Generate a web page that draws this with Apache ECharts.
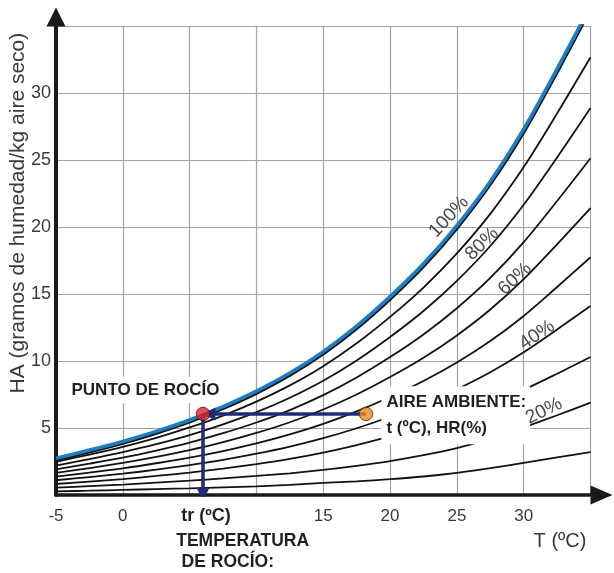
<!DOCTYPE html>
<html><head><meta charset="utf-8">
<script src="https://cdn.jsdelivr.net/npm/echarts@6/dist/echarts.min.js"></script>
<style>html,body{margin:0;padding:0;background:#fff}#c{width:614px;height:573px}</style>
</head><body><div id="c"></div>
<script>
// Temperatures (ºC) at which the curves were read
const temps = [-5, -2.5, 0, 2.5, 5, 7.5, 10, 12.5, 15, 17.5, 20, 22.5, 25, 27.5, 30, 32.5, 35];
// Humidity HA (g/kg) for each relative humidity curve
const rh100 = [2.75, 3.35, 4.0, 4.75, 5.6, 6.6, 7.75, 9.1, 10.7, 12.6, 14.8, 17.25, 20.1, 23.4, 27.3, 31.8, 36.5];
const rh90 = [2.48, 3.02, 3.6, 4.27, 5.04, 5.93, 6.97, 8.18, 9.61, 11.32, 13.29, 15.48, 18.03, 20.98, 24.47, 28.48, 32.67];
const rh80 = [2.2, 2.68, 3.2, 3.79, 4.47, 5.27, 6.18, 7.26, 8.53, 10.04, 11.79, 13.73, 15.98, 18.58, 21.66, 25.19, 28.88];
const rh70 = [1.92, 2.34, 2.79, 3.32, 3.91, 4.61, 5.41, 6.34, 7.45, 8.77, 10.29, 11.98, 13.94, 16.2, 18.87, 21.94, 25.13];
const rh60 = [1.65, 2.01, 2.39, 2.84, 3.35, 3.94, 4.63, 5.43, 6.38, 7.5, 8.8, 10.24, 11.91, 13.84, 16.11, 18.71, 21.41];
const rh50 = [1.37, 1.67, 1.99, 2.37, 2.79, 3.28, 3.85, 4.52, 5.31, 6.24, 7.31, 8.51, 9.89, 11.49, 13.36, 15.52, 17.74];
const rh40 = [1.1, 1.34, 1.59, 1.89, 2.23, 2.62, 3.08, 3.61, 4.24, 4.98, 5.84, 6.79, 7.89, 9.16, 10.65, 12.35, 14.11];
const rh30 = [0.82, 1.0, 1.19, 1.42, 1.67, 1.97, 2.31, 2.7, 3.17, 3.73, 4.37, 5.08, 5.88, 6.8, 7.85, 9.05, 10.3];
const rh20 = [0.55, 0.66, 0.78, 0.92, 1.07, 1.24, 1.42, 1.62, 1.87, 2.17, 2.53, 2.97, 3.5, 4.2, 5.05, 5.95, 6.9];
const rh10 = [0.27, 0.32, 0.38, 0.44, 0.5, 0.57, 0.65, 0.76, 0.9, 1.02, 1.18, 1.38, 1.65, 2.0, 2.4, 2.8, 3.2];
// Points: dew point and ambient air [T, HA]
const dewPoint = [6.0, 6.05];
const ambient = [18.2, 6.05];
// Tick labels shown
const xTickLabels = [-5, 0, 15, 20, 25, 30];
const yTickLabels = [5, 10, 15, 20, 25, 30];

const blackCurves = [rh90, rh80, rh70, rh60, rh50, rh40, rh30, rh20, rh10, rh100];
const pair = arr => temps.map((t, i) => [t, arr[i]]);

const LIGHT = "'Liberation Sans', Arial, sans-serif";
const BOLD = "'Liberation Sans', Arial, sans-serif";

const chart = echarts.init(document.getElementById('c'), null, {renderer: 'canvas'});

const series = blackCurves.map(arr => ({
  type: 'line', data: pair(arr), showSymbol: false, smooth: 0.3, silent: true,
  lineStyle: {color: '#111', width: 1.8}, z: 3
}));
series.push({
  type: 'line', data: pair(rh100), showSymbol: false, smooth: 0.3, silent: true,
  lineStyle: {color: '#1b7dc4', width: 3.6, shadowColor: '#111', shadowOffsetX: 0.8, shadowOffsetY: 1.4, shadowBlur: 0.01}, z: 4
});
series.push({
  type: 'lines', coordinateSystem: 'cartesian2d', silent: true, z: 5,
  symbol: ['none', 'triangle'], symbolSize: [11, 13],
  lineStyle: {color: '#1f2a7a', width: 3.5, opacity: 1},
  data: [
    {coords: [ambient, [dewPoint[0] + 0.45, dewPoint[1]]]},
    {coords: [dewPoint, [dewPoint[0], 0.05]]}
  ]
});
series.push({
  type: 'scatter', silent: true, z: 6, symbolSize: 13.5,
  data: [
    {value: dewPoint, itemStyle: {color: '#e0242a', borderColor: '#4a1010', borderWidth: 1}},
    {value: ambient, itemStyle: {color: '#f08a1e', borderColor: '#4a2a00', borderWidth: 1}}
  ]
});

chart.setOption({
  animation: false,
  backgroundColor: '#fff',
  grid: {left: 56, top: 26, width: 534.5, height: 469, containLabel: false},
  xAxis: {
    type: 'value', min: -5, max: 35, interval: 5,
    axisLine: {show: true, onZero: false, symbol: ['none', 'triangle'], symbolSize: [19, 22], symbolOffset: [0, 11],
      lineStyle: {color: '#1a1a1a', width: 3.6}},
    axisTick: {show: false},
    splitLine: {show: true, lineStyle: {color: '#a3a3a3', width: 1.2}},
    axisLabel: {margin: 13, fontSize: 17, fontFamily: LIGHT, color: '#3a3a3a',
      formatter: v => xTickLabels.includes(v) ? String(v) : ''}
  },
  yAxis: {
    type: 'value', min: 0, max: 35, interval: 5,
    axisLine: {show: true, onZero: false, symbol: ['none', 'triangle'], symbolSize: [19, 19], symbolOffset: [0, 9],
      lineStyle: {color: '#1a1a1a', width: 4}},
    axisTick: {show: false},
    splitLine: {show: true, lineStyle: {color: '#a3a3a3', width: 1.2}},
    axisLabel: {margin: 5, fontSize: 18, fontFamily: LIGHT, color: '#3a3a3a',
      formatter: v => yTickLabels.includes(v) ? String(v) : ''}
  },
  series: series
});

// Annotations anchored in data coordinates
const notes = [
  {at: [1.66, 7.84], text: 'PUNTO DE ROCÍO', bold: true, size: 17, bg: true, z: 1},
  {at: [19.35, 5.95], text: 'AIRE AMBIENTE:\nt (ºC), HR(%)', bold: true, size: 17, bg: true, align: 'left', lh: 26},
  {at: [6.22, -1.6], text: 'tr (ºC)', bold: true, size: 18},
  {at: [4.0, -3.45], text: 'TEMPERATURA', bold: true, size: 17.5, align: 'left'},
  {at: [4.4, -5.0], text: 'DE ROCÍO:', bold: true, size: 17.5, align: 'left'},
  {at: [32.72, -3.49], text: 'T (ºC)', size: 20, color: '#3a3a3a'},
  {at: [-7.84, 21.04], text: 'HA (gramos de humedad/kg aire seco)', size: 21, rot: 90, color: '#3a3a3a'},
  {at: [24.41, 20.75], text: '100%', size: 19, rot: 47, color: '#4a4a4a'},
  {at: [26.88, 18.73], text: '80%', size: 19, rot: 44, color: '#4a4a4a'},
  {at: [29.35, 16.12], text: '60%', size: 19, rot: 43, color: '#4a4a4a'},
  {at: [31.0, 11.94], text: '40%', size: 19, rot: 34, color: '#4a4a4a'},
  {at: [31.52, 6.27], text: '20%', size: 19, rot: 26, color: '#4a4a4a'}
];
const graphics = notes.map(n => {
  const p = chart.convertToPixel({gridIndex: 0}, n.at);
  return {
    type: 'text', x: p[0], y: p[1], rotation: (n.rot || 0) * Math.PI / 180, z: n.z != null ? n.z : 100,
    style: {
      text: n.text, fontSize: n.size, fontFamily: n.bold ? BOLD : LIGHT,
      fontWeight: n.bold ? 'bold' : 'normal', fill: n.color || '#231f20',
      align: n.align || 'center', verticalAlign: 'middle', lineHeight: n.lh || n.size * 1.2,
      backgroundColor: n.bg ? '#ffffff' : undefined, padding: n.bg ? [3, 4, 3, 5] : 0
    }
  };
});
chart.setOption({graphic: graphics});
</script>
</body></html>
